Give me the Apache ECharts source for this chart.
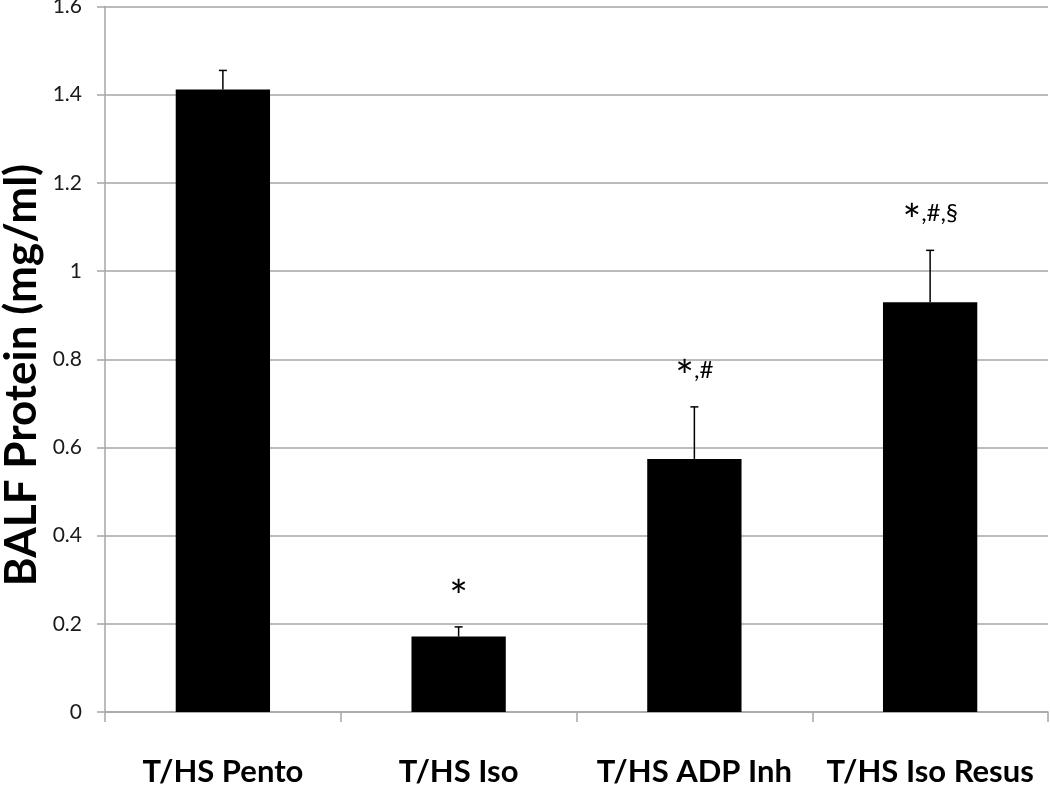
<!DOCTYPE html>
<html><head><meta charset="utf-8">
<script src="https://cdn.jsdelivr.net/npm/echarts@6/dist/echarts.min.js"></script>
<style>html,body{margin:0;padding:0;background:#fff}#c{width:1050px;height:790px}</style>
</head><body><div id="c"></div>
<script>
const categories = ['T/HS Pento', 'T/HS Iso', 'T/HS ADP Inh', 'T/HS Iso Resus'];
const means = [1.412, 0.171, 0.574, 0.929];
const errUpper = [1.455, 0.193, 0.692, 1.047];
const marks = ['', '*', '*,#', '*,#,§'];
const yTicks = [0, 0.2, 0.4, 0.6, 0.8, 1, 1.2, 1.4, 1.6];
const yTitle = 'BALF Protein (mg/ml)';

const FONT = 'Lato, "Open Sans", sans-serif';
const chart = echarts.init(document.getElementById('c'), null, {renderer: 'canvas'});

const errData = categories.map((c, i) => [i, means[i], errUpper[i], marks[i]]);

chart.setOption({
  animation: false,
  backgroundColor: '#fff',
  grid: {left: 105, right: 2, top: 6.5, bottom: 78, containLabel: false, outerBoundsMode: 'none'},
  graphic: [{
    type: 'text', x: 22, y: 375, rotation: Math.PI / 2,
    style: {text: yTitle, align: 'center', verticalAlign: 'middle', fill: '#000',
      font: 'bold 44px ' + FONT}
  }],
  xAxis: {
    type: 'category', data: categories,
    axisLine: {show: true, lineStyle: {color: '#a6a6a6', width: 1.5}},
    axisTick: {show: true, alignWithLabel: false, length: 10, lineStyle: {color: '#a6a6a6', width: 1.5}},
    axisLabel: {color: '#000', fontFamily: FONT, fontWeight: 'bold', fontSize: 31, margin: 44, interval: 0},
    splitLine: {show: false}
  },
  yAxis: {
    type: 'value', min: 0, max: 1.6, interval: 0.2,
    axisLine: {show: true, lineStyle: {color: '#a6a6a6', width: 1.5}},
    axisTick: {show: true, length: 8, lineStyle: {color: '#a6a6a6', width: 1.5}},
    axisLabel: {color: '#1a1a1a', fontFamily: FONT, fontSize: 21, margin: 23, padding: [5, 0, 0, 0],
      formatter: v => { const t = yTicks.find(x => Math.abs(x - v) < 1e-9); return t === undefined ? '' : String(t); }},
    splitLine: {show: true, lineStyle: {color: '#a6a6a6', width: 1.5}}
  },
  series: [
    {
      type: 'bar', data: means, barWidth: '40%',
      itemStyle: {color: '#000'}, z: 2
    },
    {
      type: 'custom', z: 3,
      data: errData,
      renderItem: function (params, api) {
        const x = api.value(0);
        const top = api.coord([x, api.value(2)]);
        const base = api.coord([x, api.value(1)]);
        const cap = 4;
        const children = [
          {type: 'line', shape: {x1: top[0], y1: base[1], x2: top[0], y2: top[1]}, style: {stroke: '#000', lineWidth: 1.5}},
          {type: 'line', shape: {x1: top[0] - cap, y1: top[1], x2: top[0] + cap, y2: top[1]}, style: {stroke: '#000', lineWidth: 1.5}}
        ];
        const m = api.value(3);
        if (m) {
          const parts = String(m).split(',');
          let rich = parts.map((p, k) => (k ? '{s|,}' : '') + (p === '*' ? '{a|*}' : '{s|' + p + '}')).join('');
          children.push({
            type: 'text',
            style: {
              x: top[0], y: top[1] - 37, text: rich, align: 'center', verticalAlign: 'middle',
              rich: {
                a: {fontSize: 44, fontFamily: FONT, fill: '#000', padding: [16, 0, 0, 0]},
                s: {fontSize: 24, fontFamily: FONT, fill: '#000'}
              }
            }
          });
        }
        return {type: 'group', children: children};
      }
    }
  ]
});
</script></body></html>
